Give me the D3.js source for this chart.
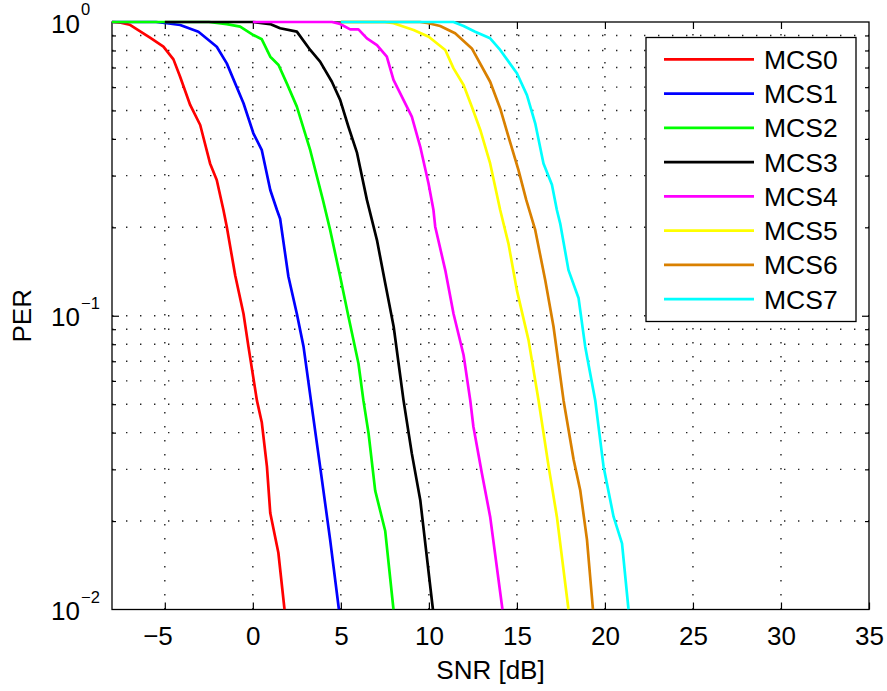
<!DOCTYPE html>
<html>
<head>
<meta charset="utf-8">
<script src="https://cdn.jsdelivr.net/npm/d3@7"></script>
<style>
  html, body { margin: 0; padding: 0; background: #fff; }
  svg { display: block; font-family: "Liberation Sans", Arial, Helvetica, sans-serif; }
</style>
</head>
<body>
<svg id="chart" width="887" height="691"></svg>
<script>
// PER versus SNR curves, one per modulation and coding scheme: [SNR dB, PER]
const mcs0 = [[-8,1],[-7.5,0.995],[-7.0,0.979],[-6.22,0.915],[-5.84,0.884],[-5.08,0.824],[-4.51,0.746],[-4.13,0.651],[-3.56,0.522],[-2.99,0.446],[-2.43,0.330],[-2.05,0.290],[-1.67,0.229],[-1.48,0.201],[-1.0,0.137],[-0.53,0.1016],[-0.25,0.0785],[0.23,0.0515],[0.51,0.0433],[0.80,0.0307],[0.99,0.0213],[1.45,0.0156],[1.80,0.01]];
const mcs1 = [[-8,1],[-5.5,1],[-4.89,0.99],[-4.13,0.977],[-3.09,0.927],[-2.05,0.824],[-1.48,0.723],[-0.53,0.529],[0.03,0.418],[0.51,0.366],[0.99,0.268],[1.37,0.229],[1.55,0.214],[2.02,0.136],[2.50,0.1016],[2.88,0.0785],[3.30,0.0515],[3.82,0.0307],[4.39,0.0173],[4.89,0.01]];
const mcs2 = [[-8,1],[-2.5,1],[-1.48,0.984],[-0.72,0.964],[0.03,0.903],[0.51,0.873],[0.99,0.762],[1.46,0.714],[1.93,0.618],[2.50,0.515],[3.26,0.366],[3.98,0.248],[4.39,0.196],[4.96,0.136],[5.43,0.0994],[6.0,0.0688],[6.28,0.0515],[6.57,0.0399],[6.95,0.0254],[7.52,0.0185],[7.99,0.01]];
const mcs3 = [[-5,1],[0,1],[0.98,0.984],[1.55,0.952],[2.50,0.927],[3.26,0.803],[3.82,0.733],[4.49,0.626],[4.96,0.543],[5.43,0.440],[5.91,0.360],[6.48,0.248],[7.05,0.181],[7.52,0.129],[8.0,0.0917],[8.56,0.0515],[9.03,0.0340],[9.51,0.0236],[10.23,0.01]];
const mcs4 = [[0,1],[4.5,1],[4.96,0.984],[5.53,0.944],[6.0,0.944],[6.48,0.880],[7.05,0.835],[7.61,0.762],[7.99,0.635],[9.03,0.476],[9.51,0.376],[9.98,0.282],[10.26,0.229],[10.36,0.201],[10.93,0.143],[11.40,0.1016],[11.97,0.0735],[12.35,0.0515],[12.53,0.0419],[13.01,0.0291],[13.48,0.0207],[14.18,0.01]];
const mcs5 = [[5,1],[7.5,1],[7.99,0.99],[9.13,0.939],[9.99,0.891],[10.93,0.803],[11.40,0.695],[11.97,0.610],[12.44,0.515],[12.92,0.429],[13.48,0.330],[14.05,0.229],[14.52,0.176],[15.0,0.122],[15.66,0.0826],[16.23,0.0515],[16.80,0.0307],[17.27,0.0207],[17.93,0.01]];
const mcs6 = [[5,1],[9.5,1],[9.98,0.99],[10.64,0.969],[11.49,0.915],[12.44,0.813],[13.48,0.626],[14.05,0.508],[14.52,0.407],[15.09,0.313],[15.53,0.248],[16.04,0.196],[16.61,0.132],[17.08,0.0917],[17.65,0.0515],[18.22,0.0324],[18.60,0.0254],[18.98,0.0173],[19.32,0.01]];
const mcs7 = [[5,1],[11.4,1],[11.97,0.969],[12.63,0.927],[13.48,0.880],[14.05,0.803],[15.0,0.669],[15.57,0.564],[16.04,0.452],[16.51,0.330],[16.99,0.279],[17.27,0.229],[17.46,0.206],[17.93,0.143],[18.50,0.115],[18.88,0.0785],[19.45,0.0515],[19.92,0.0307],[20.49,0.0207],[20.97,0.0168],[21.34,0.01]];

const seriesNames = ["MCS0","MCS1","MCS2","MCS3","MCS4","MCS5","MCS6","MCS7"];
const seriesData = [mcs0, mcs1, mcs2, mcs3, mcs4, mcs5, mcs6, mcs7];
const seriesColors = ["#ff0000","#0000ff","#00ff00","#000000","#ff00ff","#ffff00","#d98000","#00ffff"];

const xTicks = [-5, 0, 5, 10, 15, 20, 25, 30, 35];
const yMajorTicks = [1, 0.1, 0.01];
const yExponents = ["0", "\u22121", "\u22122"];

const svg = d3.select("#chart");
const plotLeft = 112, plotRight = 869, plotTop = 22, plotBottom = 609.5;

const x = d3.scaleLinear().domain([-8, 35]).range([plotLeft, plotRight]);
const y = d3.scaleLog().domain([0.01, 1]).range([plotBottom, plotTop]);

// minor log positions 2..9 within each decade
const yMinor = [];
[0.01, 0.1].forEach(d => { for (let k = 2; k <= 9; k++) yMinor.push(+(d * k).toPrecision(3)); });

// dotted grid
const grid = svg.append("g").attr("stroke", "#222").attr("stroke-width", 1.4)
  .attr("stroke-dasharray", "1.4,12.6").attr("fill", "none");
grid.selectAll("line.v").data(xTicks.filter(v => v > -8 && v < 35)).join("line").attr("class", "v")
  .attr("x1", d => x(d)).attr("x2", d => x(d)).attr("y1", plotBottom).attr("y2", plotTop);
grid.selectAll("line.h").data(yMinor.concat([0.1])).join("line").attr("class", "h")
  .attr("y1", d => y(d)).attr("y2", d => y(d)).attr("x1", plotLeft).attr("x2", plotRight);

// axes: inward ticks, no domain path
function styleAxis(g) {
  g.select(".domain").remove();
  g.selectAll(".tick line").attr("stroke", "#000").attr("stroke-width", 1.2);
}
svg.append("g").attr("transform", `translate(0,${plotBottom})`)
  .call(d3.axisBottom(x).tickValues(xTicks).tickSizeInner(-7).tickSizeOuter(0).tickPadding(17.5)
        .tickFormat(d => d < 0 ? "\u2212" + Math.abs(d) : String(d)))
  .call(styleAxis)
  .call(g => g.selectAll(".tick text").attr("font-size", 26).attr("fill", "#000")
      .attr("font-family", "Liberation Sans, Arial, sans-serif")
      .each(function(d) { if (d < 0) d3.select(this).attr("text-anchor", "end").attr("x", 7.5); }));
svg.append("g").attr("transform", `translate(0,${plotTop})`)
  .call(d3.axisTop(x).tickValues(xTicks.filter(v => v < 35)).tickSizeInner(-7).tickSizeOuter(0).tickFormat(""))
  .call(styleAxis);
svg.append("g").attr("transform", `translate(${plotLeft},0)`)
  .call(d3.axisLeft(y).tickValues([0.1]).tickSizeInner(-7).tickSizeOuter(0).tickFormat(""))
  .call(styleAxis);
svg.append("g").attr("transform", `translate(${plotLeft},0)`)
  .call(d3.axisLeft(y).tickValues(yMinor).tickSizeInner(-4).tickSizeOuter(0).tickFormat(""))
  .call(styleAxis);
svg.append("g").attr("transform", `translate(${plotRight},0)`)
  .call(d3.axisRight(y).tickValues([0.1]).tickSizeInner(-7).tickSizeOuter(0).tickFormat(""))
  .call(styleAxis);
svg.append("g").attr("transform", `translate(${plotRight},0)`)
  .call(d3.axisRight(y).tickValues(yMinor).tickSizeInner(-4).tickSizeOuter(0).tickFormat(""))
  .call(styleAxis);

// y tick labels as 10 with a raised exponent
const yLab = svg.append("g").attr("fill", "#000");
yMajorTicks.forEach((v, i) => {
  yLab.append("text").attr("x", 80).attr("y", y(v) + 10.5).attr("text-anchor", "end")
    .attr("font-size", 26).text("10");
  yLab.append("text").attr("x", 81).attr("y", y(v) - 7).attr("text-anchor", "start")
    .attr("font-size", 16.5).text(yExponents[i]);
});

// frame
svg.append("rect").attr("x", plotLeft).attr("y", plotTop)
  .attr("width", plotRight - plotLeft).attr("height", plotBottom - plotTop)
  .attr("fill", "none").attr("stroke", "#000").attr("stroke-width", 1.3);

// curves
svg.append("defs").append("clipPath").attr("id", "plotClip")
  .append("rect").attr("x", plotLeft).attr("y", plotTop - 3)
  .attr("width", plotRight - plotLeft).attr("height", plotBottom - plotTop + 3);
const line = d3.line().x(d => x(d[0])).y(d => y(d[1]));
svg.append("g").attr("clip-path", "url(#plotClip)")
  .selectAll("path").data(seriesData).join("path")
  .attr("d", line).attr("fill", "none")
  .attr("stroke", (d, i) => seriesColors[i]).attr("stroke-width", 2.7)
  .attr("stroke-linejoin", "round");

// axis titles
svg.append("text").attr("x", (plotLeft + plotRight) / 2).attr("y", 679).attr("text-anchor", "middle")
  .attr("font-size", 26).attr("fill", "#000").text("SNR [dB]");
svg.append("text").attr("transform", `translate(31,${(plotTop + plotBottom) / 2}) rotate(-90)`)
  .attr("text-anchor", "middle").attr("font-size", 26).attr("fill", "#000").text("PER");

// legend
const lg = svg.append("g");
lg.append("rect").attr("x", 646).attr("y", 37.5).attr("width", 210).attr("height", 284)
  .attr("fill", "#fff").attr("stroke", "#000").attr("stroke-width", 1.3);
seriesNames.forEach((name, i) => {
  const cy = 59.3 + i * 34.25;
  lg.append("line").attr("x1", 664).attr("x2", 754).attr("y1", cy).attr("y2", cy)
    .attr("stroke", seriesColors[i]).attr("stroke-width", 2.7);
  lg.append("text").attr("x", 764).attr("y", cy).attr("dy", "0.36em")
    .attr("font-size", 26.5).attr("fill", "#000").text(name);
});
</script>
</body>
</html>
